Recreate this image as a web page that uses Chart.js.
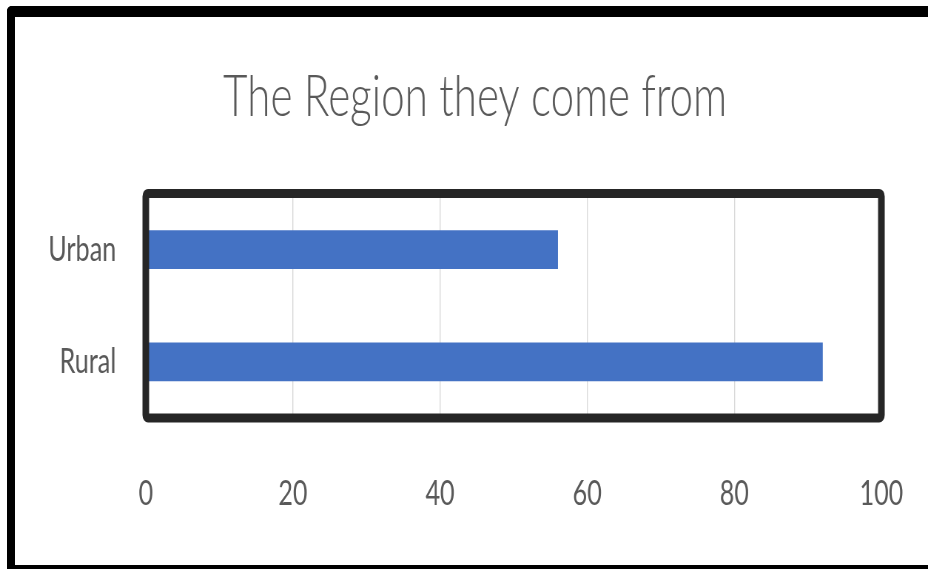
<!DOCTYPE html>
<html>
<head>
<meta charset="utf-8">
<script src="https://cdn.jsdelivr.net/npm/chart.js@4"></script>
<style>
  html, body { margin: 0; padding: 0; background: #fff; overflow: hidden; }
  #wrap { position: relative; width: 928px; height: 569px; }
  #chart { position: absolute; left: 0; top: 0; }
  #frame {
    position: absolute; left: 7px; top: 6px; right: -20px; bottom: 0;
    box-sizing: border-box;
    border-top: 11px solid #000; border-left: 8px solid #000; border-bottom: 4px solid #000;
    border-top-left-radius: 5px; pointer-events: none;
  }
</style>
</head>
<body>
<div id="wrap">
  <canvas id="chart" width="1254" height="569" style="width:928px;height:569px"></canvas>
  <div id="frame"></div>
</div>
<script>
// data
const categories = ['Urban', 'Rural'];
const counts = [56, 92];
const axisMin = 0, axisMax = 100, axisStep = 20;

const textGrey = '#595959';

// the picture is horizontally squeezed, so the canvas is drawn wider and shrunk by css
const plotFrame = {
  id: 'plotFrame',
  afterDatasetsDraw(chart) {
    const { ctx, chartArea: a } = chart;
    ctx.save();
    ctx.strokeStyle = '#262626';
    ctx.lineWidth = 9;
    ctx.beginPath();
    ctx.roundRect(a.left, a.top, a.right - a.left, a.bottom - a.top, 3);
    ctx.stroke();
    ctx.restore();
  }
};

new Chart(document.getElementById('chart'), {
  type: 'bar',
  data: {
    labels: categories,
    datasets: [{
      data: counts,
      backgroundColor: '#4472C4',
      borderWidth: 0,
      barThickness: 38
    }]
  },
  options: {
    indexAxis: 'y',
    responsive: false,
    devicePixelRatio: 1,
    animation: false,
    layout: { padding: { left: 30, right: 0, top: 0, bottom: 0 } },
    plugins: {
      legend: { display: false },
      tooltip: { enabled: false },
      title: {
        display: true,
        text: 'The Region they come from',
        color: textGrey,
        font: { family: 'Lato', size: 57, weight: 300, lineHeight: 1.2 },
        padding: { top: 63, bottom: 62 }
      }
    },
    scales: {
      x: {
        min: axisMin, max: axisMax,
        ticks: {
          stepSize: axisStep,
          color: textGrey,
          padding: 56,
          font: { family: 'Lato', size: 34, lineHeight: 1.2 }
        },
        grid: { color: '#d9d9d9', lineWidth: 1.4, drawTicks: false, tickLength: 0 },
        border: { display: false },
        afterFit: s => { s.height = 151; s.paddingLeft = 0; s.paddingRight = 63; }
      },
      y: {
        ticks: {
          color: textGrey,
          padding: 40,
          font: { family: 'Lato', size: 34, lineHeight: 1.2 }
        },
        grid: { display: false, drawTicks: false },
        border: { display: false },
        afterFit: s => { s.width = 167; }
      }
    }
  },
  plugins: [plotFrame]
});
</script>
</body>
</html>
